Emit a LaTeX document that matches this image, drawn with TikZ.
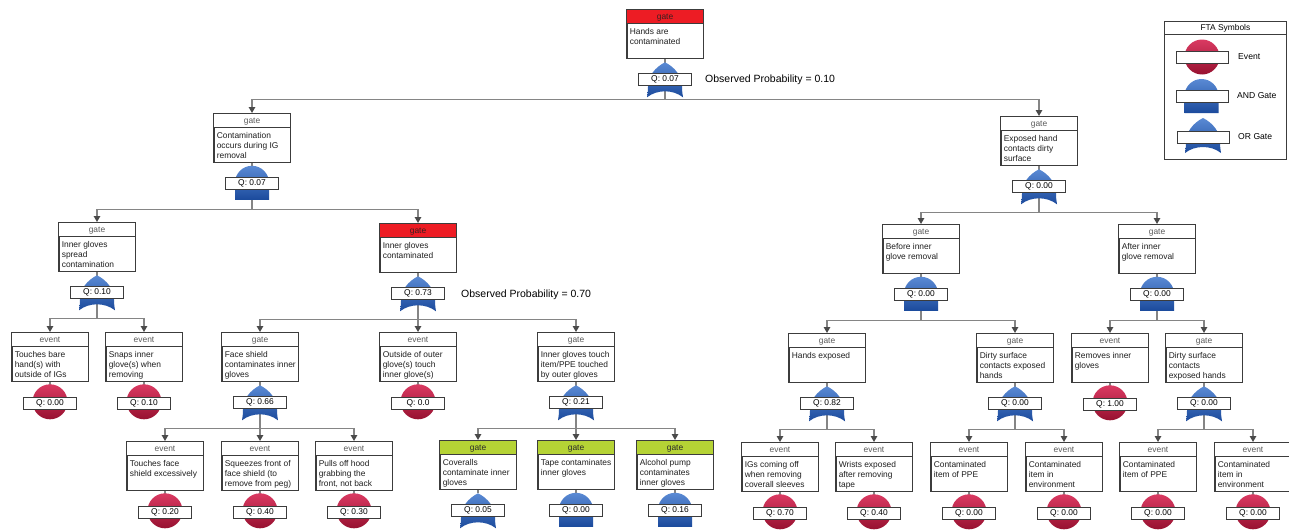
\documentclass[tikz,border=0pt]{standalone}
\usepackage{fontspec}
\setmainfont{Liberation Sans}
\usetikzlibrary{arrows.meta}

\definecolor{boxline}{HTML}{3C3C3C}
\definecolor{connline}{HTML}{858585}
\definecolor{conntip}{HTML}{4A4A4A}
\definecolor{hwhite}{HTML}{FFFFFF}
\definecolor{hred}{HTML}{ED1C24}
\definecolor{hgreen}{HTML}{B5D335}
\definecolor{twhite}{HTML}{5A5A5A}
\definecolor{tred}{HTML}{3A2020}
\definecolor{tgreen}{HTML}{2A2A2A}
\definecolor{gateTop}{HTML}{5A8AD4}
\definecolor{gateBot}{HTML}{1B4A9C}
\definecolor{evTop}{HTML}{DA3A62}
\definecolor{evBot}{HTML}{971130}

\pgfdeclarelayer{bg}
\pgfsetlayers{bg,main}

\tikzset{
  ftabox/.style={rectangle, draw=boxline, line width=0.8pt, fill=white,
    minimum width=76pt, minimum height=49pt, inner sep=0pt, anchor=north},
  hdrtext/.style={font=\fontsize{8.4}{10}\selectfont, inner sep=0pt},
  bodytext/.style={font=\fontsize{8.4}{10}\selectfont, inner sep=0pt,
    align=left, anchor=north west, text=black!88},
  qbox/.style={rectangle, draw=boxline, line width=0.8pt, fill=white,
    minimum width=53pt, minimum height=12pt, inner sep=0pt,
    font=\fontsize{8.4}{10}\selectfont},
  conn/.style={draw=connline, line width=1.3pt,
    -{Triangle[width=6.5pt,length=6pt,color=conntip]}},
  stem/.style={draw=connline, line width=1.3pt},
  gateshade/.style={top color=gateTop, bottom color=gateBot, draw=none},
  evshade/.style={top color=evTop, bottom color=evBot, draw=none},
  obs/.style={font=\fontsize{10.5}{12}\selectfont, anchor=west, inner sep=0pt},
  legtext/.style={font=\fontsize{8.6}{10}\selectfont, anchor=west, inner sep=0pt},
}

% gate and event symbols, drawn from a reference point
\newcommand{\andshape}[1]{%
  \shade[gateshade, shift={(#1)}] (-17,-34) -- (-17,-17)
    arc[start angle=180, end angle=0, radius=17] -- (17,-34) -- cycle;}
\newcommand{\orshape}[1]{%
  \shade[gateshade, shift={(#1)}] (0,0)
    .. controls (-10,-5) and (-17,-14) .. (-17,-24)
    .. controls (-17,-29) and (-17.5,-32) .. (-18,-35)
    .. controls (-8,-27) and (8,-27) .. (18,-35)
    .. controls (17.5,-32) and (17,-29) .. (17,-24)
    .. controls (17,-14) and (10,-5) .. (0,0) -- cycle;}
\newcommand{\evshape}[1]{%
  \shade[evshade] (#1) circle[radius=17.5];}

% symbol with its probability box below a tree box
\newcommand{\symand}[2]{%
  \coordinate (#1-s) at ([yshift=-3pt]#1.south);
  \andshape{#1-s}
  \node[qbox] (#1-q) at ([yshift=-21pt]#1.south) {Q: #2};}
\newcommand{\symor}[2]{%
  \coordinate (#1-s) at ([yshift=-3.5pt]#1.south);
  \orshape{#1-s}
  \node[qbox] (#1-q) at ([yshift=-21pt]#1.south) {Q: #2};}
\newcommand{\symev}[2]{%
  \coordinate (#1-s) at ([yshift=-20pt]#1.south);
  \evshape{#1-s}
  \node[qbox] (#1-q) at ([yshift=-22pt]#1.south) {Q: #2};}

% #1 name, #2 centre x, #3 top y, #4 header colour key, #5 header word,
% #6 symbol (and/or/ev), #7 probability, #8 description
\newcommand{\ftanode}[8]{%
  \node[ftabox] (#1) at (#2,-#3) {};
  \fill[h#4] (#1.north west) rectangle ([yshift=-14pt]#1.north east);
  \draw[boxline, line width=0.8pt] ([yshift=-14pt]#1.north west) -- ([yshift=-14pt]#1.north east);
  \node[hdrtext, text=t#4] (#1-h) at ([yshift=-8.3pt]#1.north) {#5};
  \node[bodytext] (#1-t) at ([xshift=3pt,yshift=-19pt]#1.north west) {#8};
  \draw[boxline, line width=0.8pt] (#1.north west) rectangle (#1.south east);
  \coordinate (#1-b) at ([yshift=-47pt]#1.south);
  \csname sym#6\endcsname{#1}{#7}%
  \begin{pgfonlayer}{bg}\draw[stem] (#1.south) -- (#1-s);\end{pgfonlayer}%
}

% parent-to-child connector through the parent's bus line
\newcommand{\link}[2]{%
  \begin{pgfonlayer}{bg}\draw[conn] (#1.south) -- (#1-b) -| (#2.north);\end{pgfonlayer}}

\begin{document}
\begin{tikzpicture}[x=1pt, y=1pt]
\useasboundingbox (0,0) rectangle (1289,-530);
\begin{pgfonlayer}{bg}\fill[white] (0,0) rectangle (1289,-530);\end{pgfonlayer}
\clip (0,0) rectangle (1289,-530);

% level 1
\ftanode{top}{665}{9}{red}{gate}{or}{0.07}{Hands are\\contaminated}
\coordinate (top-b) at ([yshift=-41pt]top.south);
\node[obs] (obs1) at (705,-80) {Observed Probability = 0.10};

% level 2
\ftanode{ga}{252}{113}{white}{gate}{and}{0.07}{Contamination\\occurs during IG\\removal}
\ftanode{gb}{1039}{116}{white}{gate}{or}{0.00}{Exposed hand\\contacts dirty\\surface}

% level 3
\ftanode{gaa}{97}{222}{white}{gate}{or}{0.10}{Inner gloves\\spread\\contamination}
\ftanode{gab}{418}{223}{red}{gate}{or}{0.73}{Inner gloves\\contaminated}
\node[obs] (obs2) at (461,-295) {Observed Probability = 0.70};
\ftanode{gba}{921}{224}{white}{gate}{and}{0.00}{Before inner\\glove removal}
\ftanode{gbb}{1157}{224}{white}{gate}{and}{0.00}{After inner\\glove removal}

% level 4
\ftanode{eaa1}{50}{332}{white}{event}{ev}{0.00}{Touches bare\\hand(s) with\\outside of IGs}
\ftanode{eaa2}{144}{332}{white}{event}{ev}{0.10}{Snaps inner\\glove(s) when\\removing}
\ftanode{gab1}{260}{332}{white}{gate}{or}{0.66}{Face shield\\contaminates inner\\gloves}
\ftanode{eab2}{418}{332}{white}{event}{ev}{0.0}{Outside of outer\\glove(s) touch\\inner glove(s)}
\ftanode{gab3}{576}{332}{white}{gate}{or}{0.21}{Inner gloves touch\\item/PPE touched\\by outer gloves}
\ftanode{gba1}{827}{333}{white}{gate}{or}{0.82}{Hands exposed}
\ftanode{gba2}{1015}{333}{white}{gate}{or}{0.00}{Dirty surface\\contacts exposed\\hands}
\ftanode{ebb1}{1110}{333}{white}{event}{ev}{1.00}{Removes inner\\gloves}
\ftanode{gbb2}{1204}{333}{white}{gate}{or}{0.00}{Dirty surface\\contacts\\exposed hands}

% level 5
\ftanode{e1}{165}{441}{white}{event}{ev}{0.20}{Touches face\\shield excessively}
\ftanode{e2}{260}{441}{white}{event}{ev}{0.40}{Squeezes front of\\face shield (to\\remove from peg)}
\ftanode{e3}{354}{441}{white}{event}{ev}{0.30}{Pulls off hood\\grabbing the\\front, not back}
\ftanode{g4}{478}{440}{green}{gate}{or}{0.05}{Coveralls\\contaminate inner\\gloves}
\ftanode{g5}{576}{440}{green}{gate}{and}{0.00}{Tape contaminates\\inner gloves}
\ftanode{g6}{675}{440}{green}{gate}{and}{0.16}{Alcohol pump\\contaminates\\inner gloves}
\ftanode{e7}{780}{442}{white}{event}{ev}{0.70}{IGs coming off\\when removing\\coverall sleeves}
\ftanode{e8}{874}{442}{white}{event}{ev}{0.40}{Wrists exposed\\after removing\\tape}
\ftanode{e9}{969}{442}{white}{event}{ev}{0.00}{Contaminated\\item of PPE}
\ftanode{e10}{1064}{442}{white}{event}{ev}{0.00}{Contaminated\\item in\\environment}
\ftanode{e11}{1158}{442}{white}{event}{ev}{0.00}{Contaminated\\item of PPE}
\ftanode{e12}{1253}{442}{white}{event}{ev}{0.00}{Contaminated\\item in\\environment}

% connectors
\link{top}{ga}   \link{top}{gb}
\link{ga}{gaa}   \link{ga}{gab}
\link{gb}{gba}   \link{gb}{gbb}
\link{gaa}{eaa1} \link{gaa}{eaa2}
\link{gab}{gab1} \link{gab}{eab2} \link{gab}{gab3}
\link{gba}{gba1} \link{gba}{gba2}
\link{gbb}{ebb1} \link{gbb}{gbb2}
\link{gab1}{e1}  \link{gab1}{e2}  \link{gab1}{e3}
\link{gab3}{g4}  \link{gab3}{g5}  \link{gab3}{g6}
\link{gba1}{e7}  \link{gba1}{e8}
\link{gba2}{e9}  \link{gba2}{e10}
\link{gbb2}{e11} \link{gbb2}{e12}

% symbol key
\node[rectangle, draw=boxline, line width=0.8pt, minimum width=122pt,
  minimum height=138pt, inner sep=0pt, anchor=north west] (legend) at (1164,-21) {};
\draw[boxline, line width=0.8pt] ([yshift=-13pt]legend.north west) -- ([yshift=-13pt]legend.north east);
\node[hdrtext] (legtitle) at ([yshift=-7.5pt]legend.north) {FTA Symbols};
\coordinate (lev) at (1202,-57);
\evshape{lev}
\node[qbox, minimum width=52pt] (levbox) at (1202,-57) {};
\node[legtext] (levtxt) at (1238,-57) {Event};
\coordinate (land) at (1201.5,-79);
\andshape{land}
\node[qbox, minimum width=52pt] (landbox) at (1202,-96) {};
\node[legtext] (landtxt) at (1237,-96) {AND Gate};
\coordinate (lor) at (1203,-118);
\orshape{lor}
\node[qbox, minimum width=52pt] (lorbox) at (1203,-137) {};
\node[legtext] (lortxt) at (1238,-137) {OR Gate};
\end{tikzpicture}
\end{document}
